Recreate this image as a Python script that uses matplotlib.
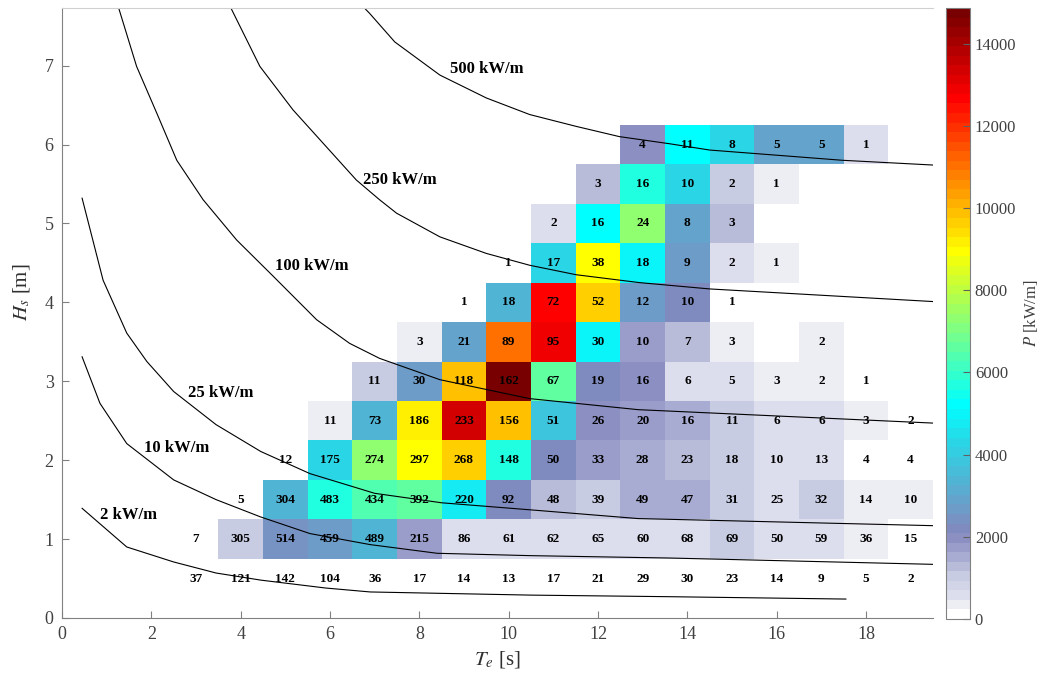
import numpy as np
import matplotlib
matplotlib.use('Agg')
import matplotlib.pyplot as plt
from matplotlib.colors import LinearSegmentedColormap, Normalize

plt.rcParams['font.family'] = ['Liberation Serif', 'DejaVu Serif']
plt.rcParams['mathtext.fontset'] = 'stix'

N = None

# bin centres
te_centres = [3, 4, 5, 6, 7, 8, 9, 10, 11, 12, 13, 14, 15, 16, 17, 18, 19]
hs_centres = [0.5, 1.0, 1.5, 2.0, 2.5, 3.0, 3.5, 4.0, 4.5, 5.0, 5.5, 6.0]

# occurrences per (Hs, Te) bin, rows = Hs
counts = [
    [37, 121, 142, 104, 36, 17, 14, 13, 17, 21, 29, 30, 23, 14, 9, 5, 2],
    [7, 305, 514, 459, 489, 215, 86, 61, 62, 65, 60, 68, 69, 50, 59, 36, 15],
    [N, 5, 304, 483, 434, 392, 220, 92, 48, 39, 49, 47, 31, 25, 32, 14, 10],
    [N, N, 12, 175, 274, 297, 268, 148, 50, 33, 28, 23, 18, 10, 13, 4, 4],
    [N, N, N, 11, 73, 186, 233, 156, 51, 26, 20, 16, 11, 6, 6, 3, 2],
    [N, N, N, N, 11, 30, 118, 162, 67, 19, 16, 6, 5, 3, 2, 1, N],
    [N, N, N, N, N, 3, 21, 89, 95, 30, 10, 7, 3, N, 2, N, N],
    [N, N, N, N, N, N, 1, 18, 72, 52, 12, 10, 1, N, N, N, N],
    [N, N, N, N, N, N, N, 1, 17, 38, 18, 9, 2, 1, N, N, N],
    [N, N, N, N, N, N, N, N, 2, 16, 24, 8, 3, N, N, N, N],
    [N, N, N, N, N, N, N, N, N, 3, 16, 10, 2, 1, N, N, N],
    [N, N, N, N, N, N, N, N, N, N, 4, 11, 8, 5, 5, 1, N],
]

# energy per bin (colour)
power = [
    [30, 120, 180, 160, 60, 35, 30, 35, 45, 65, 95, 105, 85, 55, 40, 25, 10],
    [20, 1100, 2450, 2700, 3400, 1750, 600, 600, 600, 600, 600, 600, 1100, 600, 600, 400, 200],
    [N, 40, 3300, 5700, 6400, 6700, 4800, 2300, 1300, 1050, 1500, 1500, 1050, 600, 1050, 400, 400],
    [N, N, 150, 4300, 7400, 9000, 9600, 5800, 2300, 1700, 1500, 1250, 1050, 600, 600, 150, 150],
    [N, N, N, 350, 3400, 9200, 13300, 9800, 3800, 2000, 1750, 1500, 1050, 600, 600, 350, 150],
    [N, N, N, N, 1050, 2600, 9800, 14700, 6600, 2300, 1950, 600, 600, 350, 350, 150, N],
    [N, N, N, N, N, 350, 2900, 11000, 12900, 4900, 1800, 1250, 350, N, 350, N, N],
    [N, N, N, N, N, N, 120, 3400, 12650, 9600, 2700, 2300, 200, N, N, N, N],
    [N, N, N, N, N, N, N, 180, 4300, 9000, 5000, 2700, 600, 350, N, N, N],
    [N, N, N, N, N, N, N, N, 600, 5200, 7300, 3000, 1250, N, N, N, N],
    [N, N, N, N, N, N, N, N, N, 1250, 5700, 4300, 1050, 400, N, N, N],
    [N, N, N, N, N, N, N, N, N, N, 1950, 5200, 4300, 3000, 3000, 600, N],
]
p_max = 14865

# iso-power lines (Te [s], Hs [m])
iso_2_te = [0.45, 1.45, 2.5, 3.45, 4.45, 5.9, 6.9, 10.5, 13.6, 17.55]
iso_2_hs = [1.39, 0.90, 0.71, 0.57, 0.48, 0.38, 0.33, 0.29, 0.27, 0.24]
iso_10_te = [0.45, 0.85, 1.45, 2.5, 3.45, 4.45, 5.55, 6.9, 8.4, 10.5, 13.6, 19.5]
iso_10_hs = [3.31, 2.72, 2.21, 1.75, 1.50, 1.28, 1.07, 0.93, 0.82, 0.79, 0.76, 0.68]
iso_25_te = [0.45, 0.92, 1.45, 1.9, 2.5, 3.45, 4.45, 5.55, 7.0, 8.5, 10.5, 12.9, 19.5]
iso_25_hs = [5.32, 4.28, 3.61, 3.25, 2.87, 2.45, 2.11, 1.83, 1.58, 1.46, 1.37, 1.26, 1.17]
iso_100_te = [1.22, 1.67, 2.12, 2.57, 3.16, 3.91, 4.73, 5.7, 6.44, 7.11, 8.46, 10.47, 12.9, 19.5]
iso_100_hs = [7.82, 6.99, 6.40, 5.80, 5.30, 4.79, 4.33, 3.78, 3.48, 3.29, 3.02, 2.78, 2.64, 2.47]
iso_250_te = [3.72, 4.43, 5.17, 5.92, 6.59, 7.11, 7.49, 8.46, 9.5, 10.47, 11.51, 12.93, 14.5, 19.5]
iso_250_hs = [7.80, 6.99, 6.44, 5.97, 5.55, 5.30, 5.13, 4.83, 4.62, 4.47, 4.35, 4.25, 4.17, 4.01]
iso_500_te = [6.65, 6.89, 7.45, 8.46, 9.5, 10.47, 11.51, 12.48, 13.6, 14.5, 17.48, 19.5]
iso_500_hs = [7.80, 7.66, 7.30, 6.88, 6.59, 6.38, 6.23, 6.10, 6.01, 5.93, 5.80, 5.74]

iso_lines = [(iso_2_te, iso_2_hs), (iso_10_te, iso_10_hs), (iso_25_te, iso_25_hs),
             (iso_100_te, iso_100_hs), (iso_250_te, iso_250_hs), (iso_500_te, iso_500_hs)]
iso_labels = ['2 kW/m', '10 kW/m', '25 kW/m', '100 kW/m', '250 kW/m', '500 kW/m']
iso_label_te = [1.50, 2.57, 3.56, 5.59, 7.56, 9.51]
iso_label_hs = [1.31, 2.15, 2.85, 4.46, 5.55, 6.96]

# colour map: light lavender ramp, then jet-like part
cmap_pos = [0, 1, 2, 3, 4, 5, 6, 7, 8, 9, 11, 14, 18, 22, 30, 38, 46, 54, 63]
cmap_col = ['#ffffff', '#ededf4', '#dcdeee', '#d2d4e8', '#c8cce2', '#b8bcd8', '#a8acd2',
            '#9a9dca', '#8c8fc2', '#7f8abe', '#6e9cc8', '#50b4d4', '#2ad6e6', '#00ffff',
            '#80ff80', '#ffff00', '#ff8000', '#ff0000', '#780000']
cmap = LinearSegmentedColormap.from_list(
    'wave', list(zip(np.array(cmap_pos) / 63.0, cmap_col))).resampled(64)

fig = plt.figure(figsize=(10.43, 6.78), dpi=100)
ax = fig.add_axes([62 / 1043, 1 - 618 / 678, 871 / 1043, 610 / 678])

te_edges = np.append(np.array(te_centres) - 0.5, te_centres[-1] + 0.5)
hs_edges = np.append(np.array(hs_centres) - 0.25, hs_centres[-1] + 0.25)
p = np.ma.masked_invalid(np.array(power, dtype=float))
mesh = ax.pcolormesh(te_edges, hs_edges, p, cmap=cmap,
                     norm=Normalize(vmin=0, vmax=p_max), edgecolors='none')

for i, hs in enumerate(hs_centres):
    for j, te in enumerate(te_centres):
        c = counts[i][j]
        if c is not None:
            ax.text(te, hs, str(c), ha='center', va='center',
                    fontsize=9.5, fontweight='bold', color='black')

for (x, y), lab, lx, ly in zip(iso_lines, iso_labels, iso_label_te, iso_label_hs):
    ax.plot(x, y, color='black', lw=0.8)
    ax.text(lx, ly, lab, ha='center', va='center', fontsize=12, fontweight='bold')

ax.set_xlim(0, 19.5)
ax.set_ylim(0, 7.73)
ax.set_xticks(range(0, 19, 2))
ax.set_yticks(range(0, 8))
ax.tick_params(direction='in', length=5, labelsize=13, color='#808080',
               labelcolor='#404040', pad=6)
for s in ['left', 'bottom']:
    ax.spines[s].set_color('#808080')
ax.spines['top'].set_color('#d0d0d0')
ax.spines['right'].set_visible(False)

ax.set_xlabel(r'$T_e$ [s]', fontsize=15, color='#303030', labelpad=4)
ax.set_ylabel(r'$H_s$ [m]', fontsize=15, color='#303030')
ax.yaxis.set_label_coords(-0.034, 0.534)

cax = fig.add_axes([946 / 1043, 1 - 619 / 678, 24 / 1043, 611 / 678])
cb = fig.colorbar(mesh, cax=cax, ticks=range(0, 14001, 2000))
cb.outline.set_edgecolor('#808080')
cb.ax.tick_params(direction='in', length=5, labelsize=12, color='#606060',
                  labelcolor='#404040')
cb.set_label(r'$P$ [kW/m]', fontsize=12, color='#404040', labelpad=4)

fig.savefig('out.png', dpi=100)
